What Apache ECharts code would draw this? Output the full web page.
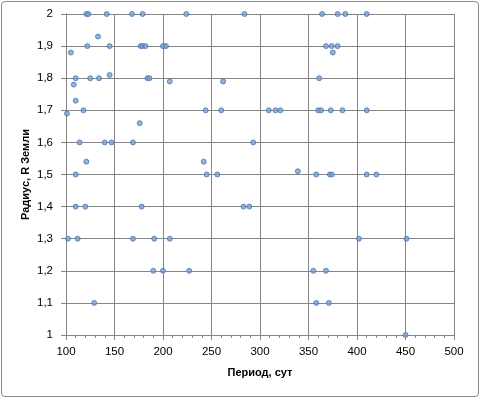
<!DOCTYPE html>
<html>
<head>
<meta charset="utf-8">
<script src="https://cdn.jsdelivr.net/npm/echarts@6.0.0/dist/echarts.min.js"></script>
<style>
  html, body { margin: 0; padding: 0; background: #fff; }
  #chart { position: absolute; left: 0; top: 0; width: 481px; height: 398px; }
  #frame { position: absolute; left: 1px; top: 1px; width: 476px; height: 394px;
           border: 1px solid #8a8a8a; border-radius: 4px; pointer-events: none; }
</style>
</head>
<body>
<div id="chart"></div>
<div id="frame"></div>
<script>
// periods (days) and radii (Earth radii)
const period = [
  121, 123, 142, 168, 179, 224, 284, 364, 380, 388, 410,
  133,
  122, 145, 177, 179, 182, 200, 203, 368, 374, 380,
  105, 375,
  145,
  110, 125, 134, 184, 186, 361,
  207, 262,
  108,
  110,
  118, 244, 260, 309, 316, 321, 360, 363, 373, 385, 410,
  101,
  176,
  114, 140, 147, 169, 293,
  121, 242,
  339,
  110, 245, 256, 358, 372, 374, 410, 420,
  110, 120, 178, 283, 289,
  102, 112, 169, 191, 207, 402, 451,
  190, 200, 227, 355, 368,
  129, 358, 371,
  450
];
const radius = [
  2, 2, 2, 2, 2, 2, 2, 2, 2, 2, 2,
  1.93,
  1.9, 1.9, 1.9, 1.9, 1.9, 1.9, 1.9, 1.9, 1.9, 1.9,
  1.88, 1.88,
  1.81,
  1.8, 1.8, 1.8, 1.8, 1.8, 1.8,
  1.79, 1.79,
  1.78,
  1.73,
  1.7, 1.7, 1.7, 1.7, 1.7, 1.7, 1.7, 1.7, 1.7, 1.7, 1.7,
  1.69,
  1.66,
  1.6, 1.6, 1.6, 1.6, 1.6,
  1.54, 1.54,
  1.51,
  1.5, 1.5, 1.5, 1.5, 1.5, 1.5, 1.5, 1.5,
  1.4, 1.4, 1.4, 1.4, 1.4,
  1.3, 1.3, 1.3, 1.3, 1.3, 1.3, 1.3,
  1.2, 1.2, 1.2, 1.2, 1.2,
  1.1, 1.1, 1.1,
  1
];
const xName = 'Период, сут';
const yName = 'Радиус, R Земли';

const points = period.map((p, i) => [p, radius[i]]);

const gridColor = '#868686';
const font = 'Liberation Sans';

const chart = echarts.init(document.getElementById('chart'));
chart.setOption({
  animation: false,
  grid: { left: 66, right: 27, top: 14, bottom: 63 },
  xAxis: {
    type: 'value', min: 100, max: 500, interval: 50,
    name: xName, nameLocation: 'middle', nameGap: 32,
    nameTextStyle: { fontFamily: font, fontSize: 11, fontWeight: 'bold', color: '#000' },
    axisLine: { show: true, lineStyle: { color: gridColor } },
    axisTick: { show: true, length: 5, lineStyle: { color: gridColor } },
    minorTick: { show: true, splitNumber: 5, length: 3, lineStyle: { color: gridColor } },
    axisLabel: { fontFamily: font, fontSize: 11.5, color: '#000', margin: 11 },
    splitLine: { show: true, lineStyle: { color: gridColor } }
  },
  yAxis: {
    type: 'value', min: 1, max: 2, interval: 0.1,
    name: yName, nameLocation: 'middle', nameGap: 35, nameRotate: 90,
    nameMoveOverlap: false,
    nameTextStyle: { fontFamily: font, fontSize: 11, fontWeight: 'bold', color: '#000' },
    axisLine: { show: true, lineStyle: { color: gridColor } },
    axisTick: { show: true, length: 5, lineStyle: { color: gridColor } },
    axisLabel: {
      fontFamily: font, fontSize: 11.5, color: '#000', margin: 13,
      formatter: v => {
        const r = Math.round(v * 10) / 10;
        return Number.isInteger(r) ? String(r) : r.toFixed(1).replace('.', ',');
      }
    },
    splitLine: { show: true, lineStyle: { color: gridColor } }
  },
  series: [{
    type: 'scatter',
    data: points,
    symbol: 'circle',
    symbolSize: 5,
    itemStyle: { color: '#7b9fd2', borderColor: '#4a78b4', borderWidth: 1 }
  }]
});
</script>
</body>
</html>
